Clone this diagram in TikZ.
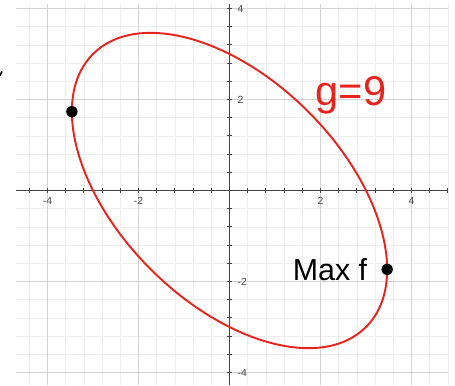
\documentclass[tikz,border=0pt]{standalone}
\usepackage{fontspec}
\setmainfont{Liberation Sans}
\usepackage{tikz}
\usetikzlibrary{calc,positioning}

\definecolor{curvered}{HTML}{E8231E}
\definecolor{minorgray}{HTML}{EDEDED}
\definecolor{majorgray}{HTML}{D2D2D2}
\definecolor{axisgray}{HTML}{444444}

\tikzset{
  minorgrid/.style={draw=minorgray, line width=0.5pt},
  majorgrid/.style={draw=majorgray, line width=0.6pt},
  axisline/.style={draw=axisgray, line width=0.7pt},
  ticklabel/.style={font=\fontsize{6.5}{7}\selectfont, text=axisgray, inner sep=0pt},
  critpoint/.style={fill=black, circle, inner sep=0pt, minimum size=0.25cm},
  handnote/.style={inner sep=0pt}
}

\begin{document}
\begin{tikzpicture}

  \useasboundingbox (-5.044,-4.275) rectangle (4.956,4.187);

  % grid
  \foreach \i in {-11,...,12} \draw[minorgrid] (\i*0.4,-4.275) -- (\i*0.4,4.1);
  \foreach \i in {-10,...,10} \draw[minorgrid] (-4.69,\i*0.4) -- (4.8,\i*0.4);
  \foreach \v in {-4,-2,2,4} {
    \draw[majorgrid] (\v,-4.275) -- (\v,4.1);
    \draw[majorgrid] (-4.69,\v) -- (4.8,\v);
  }

  % axes
  \coordinate (W) at (-4.69,0);
  \coordinate (E) at (4.8,0);
  \coordinate (S) at (0,-4.275);
  \coordinate (N) at (0,4.1);
  \draw[axisline] (W) -- (E);
  \draw[axisline] (S) -- (N);
  \foreach \i in {-11,...,12} \draw[axisline] (\i*0.4,-0.05) -- (\i*0.4,0.05);
  \foreach \i in {-10,...,10} \draw[axisline] (-0.05,\i*0.4) -- (0.05,\i*0.4);

  \foreach \v in {-4,-2,2,4} {
    \node[ticklabel] (xl\v) at (\v,-0.22) {\v};
    \node[ticklabel, anchor=west] (yl\v) at (0.17,\v) {\v};
  }

  % constraint curve g = 9
  \draw[curvered, line width=1.2pt, rotate=-45] (0,0) ellipse [x radius=4.243, y radius=2.449];

  \node[critpoint] (P) at (-3.464,1.732) {};
  \node[critpoint] (Q) at (3.464,-1.732) {};

  \node[handnote, text=curvered, font=\fontsize{26}{30}\selectfont] (gnote) at (2.67,2.1) {g=9};
  \node[handnote, font=\fontsize{19}{22}\selectfont, left=0.3cm of Q] (maxnote) {Max f};

  % cut-off mark at the left edge
  \draw[line width=1pt] (-5.044,2.52) -- (-5.0,2.62);

\end{tikzpicture}
\end{document}
